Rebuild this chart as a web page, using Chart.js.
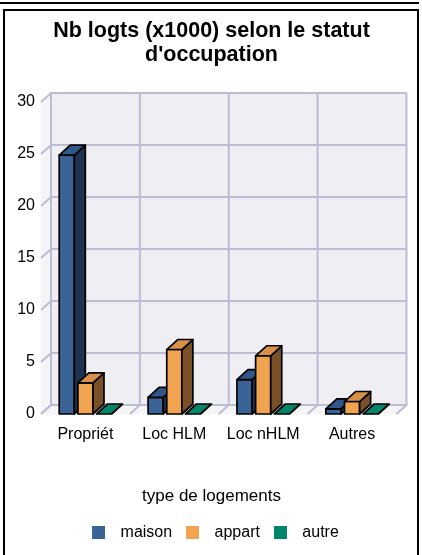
<!DOCTYPE html>
<html>
<head>
<meta charset="utf-8">
<script src="https://cdn.jsdelivr.net/npm/chart.js@4.4.1/dist/chart.umd.min.js"></script>
<style>
  body { margin: 0; background: #fff; }
  #wrap { position: relative; width: 422px; height: 555px; overflow: hidden; }
  #topline { position: absolute; left: 0; top: 2px; width: 419px; height: 2px; background: #000; }
  #frame { position: absolute; left: 3px; top: 9px; width: 412px; height: 600px; border: 2px solid #000; }
  canvas { position: absolute; left: 0; top: 0; }
</style>
</head>
<body>
<div id="wrap">
  <div id="topline"></div>
  <div id="frame"></div>
  <canvas id="chart" width="422" height="555"></canvas>
</div>
<script>
// data (x1000 logements)
var categories = ['Propriét', 'Loc HLM', 'Loc nHLM', 'Autres'];
var maison = [24.9, 1.6, 3.3, 0.5];
var appart = [3.0, 6.2, 5.6, 1.2];
var autre = [0, 0, 0, 0];
var seriesNames = ['maison', 'appart', 'autre'];
var yMin = 0, yMax = 30, yStep = 5;

// depth of the 3d walls and bars
var DX = 10, DY = -9, BDX = 11, BDY = -10;

Chart.defaults.font.family = "'Liberation Sans', Arial, sans-serif";
Chart.defaults.color = '#000';

function swatch(color) {
  var c = document.createElement('canvas');
  c.width = 13; c.height = 13;
  var g = c.getContext('2d');
  g.fillStyle = color;
  g.fillRect(0, 0, 13, 13);
  return c;
}

function poly(ctx, pts, fill) {
  ctx.beginPath();
  ctx.moveTo(pts[0][0], pts[0][1]);
  for (var k = 1; k < pts.length; k++) ctx.lineTo(pts[k][0], pts[k][1]);
  ctx.closePath();
  ctx.fillStyle = fill;
  ctx.fill();
  ctx.stroke();
}

var bars3d = {
  id: 'bars3d',
  beforeDatasetsDraw: function(chart) {
    var ctx = chart.ctx, a = chart.chartArea, xs = chart.scales.x, ys = chart.scales.y;
    var n = categories.length;
    ctx.save();
    // side wall + floor
    ctx.fillStyle = '#F5F5F8';
    ctx.beginPath();
    ctx.moveTo(a.left, a.top);
    ctx.lineTo(a.left + DX, a.top + DY);
    ctx.lineTo(a.left + DX, a.bottom + DY);
    ctx.lineTo(a.right + DX, a.bottom + DY);
    ctx.lineTo(a.right, a.bottom);
    ctx.lineTo(a.left, a.bottom);
    ctx.closePath();
    ctx.fill();
    // back wall
    ctx.fillStyle = '#EEEEF3';
    ctx.fillRect(a.left + DX, a.top + DY, a.right - a.left, a.bottom - a.top);
    ctx.strokeStyle = '#BCBCD5';
    ctx.lineWidth = 2;
    ys.ticks.forEach(function(t) {
      var y = ys.getPixelForValue(t.value);
      ctx.beginPath();
      ctx.moveTo(a.left, y);
      ctx.lineTo(a.left + DX, y + DY);
      ctx.lineTo(a.right + DX, y + DY);
      ctx.stroke();
    });
    for (var i = 0; i <= n; i++) {
      var x = i === 0 ? a.left : i === n ? a.right : (xs.getPixelForValue(i - 1) + xs.getPixelForValue(i)) / 2;
      ctx.beginPath();
      ctx.moveTo(x, a.bottom);
      ctx.lineTo(x + DX, a.bottom + DY);
      ctx.lineTo(x + DX, a.top + DY);
      ctx.stroke();
    }
    // bars, left to right so each one covers the side of the previous
    ctx.strokeStyle = '#000';
    ctx.lineWidth = 1.7;
    ctx.lineJoin = 'round';
    for (var i = 0; i < n; i++) {
      chart.data.datasets.forEach(function(ds, d) {
        var p = chart.getDatasetMeta(d).data[i].getProps(['x', 'y', 'base', 'width'], true);
        var l = p.x - p.width / 2, r = p.x + p.width / 2;
        var top = Math.min(p.y, p.base), bot = p.base;
        if (bot - top > 0.5) {
          poly(ctx, [[l, top], [r, top], [r, bot], [l, bot]], ds.backgroundColor);
          poly(ctx, [[r, top], [r + BDX, top + BDY], [r + BDX, bot + BDY], [r, bot]], ds.sideColor);
        }
        poly(ctx, [[l, top], [l + BDX, top + BDY], [r + BDX, top + BDY], [r, top]], ds.topColor);
      });
    }
    ctx.restore();
    return false;
  }
};

new Chart(document.getElementById('chart'), {
  type: 'bar',
  data: {
    labels: categories,
    datasets: [
      { label: seriesNames[0], data: maison, backgroundColor: '#3A6496', topColor: '#30578A', sideColor: '#1E3352' },
      { label: seriesNames[1], data: appart, backgroundColor: '#F0A351', topColor: '#D9914A', sideColor: '#7A5028' },
      { label: seriesNames[2], data: autre, backgroundColor: '#00876A', topColor: '#00876A', sideColor: '#005A46' }
    ]
  },
  options: {
    responsive: false,
    animation: false,
    layout: { padding: { left: 1, right: 0, top: 0, bottom: 4.5 } },
    datasets: { bar: { categoryPercentage: 0.63, barPercentage: 0.81 } },
    scales: {
      x: {
        grid: { display: false, drawTicks: false },
        border: { display: false },
        ticks: { padding: 11, font: { size: 16 } },
        afterFit: function(s) { s.height = 32; }
      },
      y: {
        min: yMin, max: yMax,
        ticks: { stepSize: yStep, padding: 6, font: { size: 16 } },
        grid: { display: false, drawTicks: false },
        border: { display: false },
        afterFit: function(s) { s.width = 40; }
      },
      y2: {
        position: 'right',
        grid: { display: false, drawTicks: false },
        border: { display: false },
        ticks: { display: false },
        afterFit: function(s) { s.width = 25.5; }
      }
    },
    plugins: {
      title: {
        display: true,
        text: ['Nb logts (x1000) selon le statut', "d'occupation"],
        font: { size: 21.5, weight: 'bold', lineHeight: 1.14 },
        padding: { top: 18.5, bottom: 34.5 }
      },
      legend: {
        position: 'bottom',
        title: { display: true, text: 'type de logements', font: { size: 17 }, padding: { top: 41.5, bottom: 10.6 } },
        labels: {
          font: { size: 16 },
          padding: 6,
          usePointStyle: true,
          pointStyleWidth: 28.4,
          boxHeight: 13,
          generateLabels: function(chart) {
            var items = Chart.defaults.plugins.legend.labels.generateLabels(chart);
            items.forEach(function(it) {
              it.pointStyle = swatch(chart.data.datasets[it.datasetIndex].backgroundColor);
            });
            return items;
          }
        }
      },
      tooltip: { enabled: false }
    }
  },
  plugins: [bars3d]
});
</script>
</body>
</html>
